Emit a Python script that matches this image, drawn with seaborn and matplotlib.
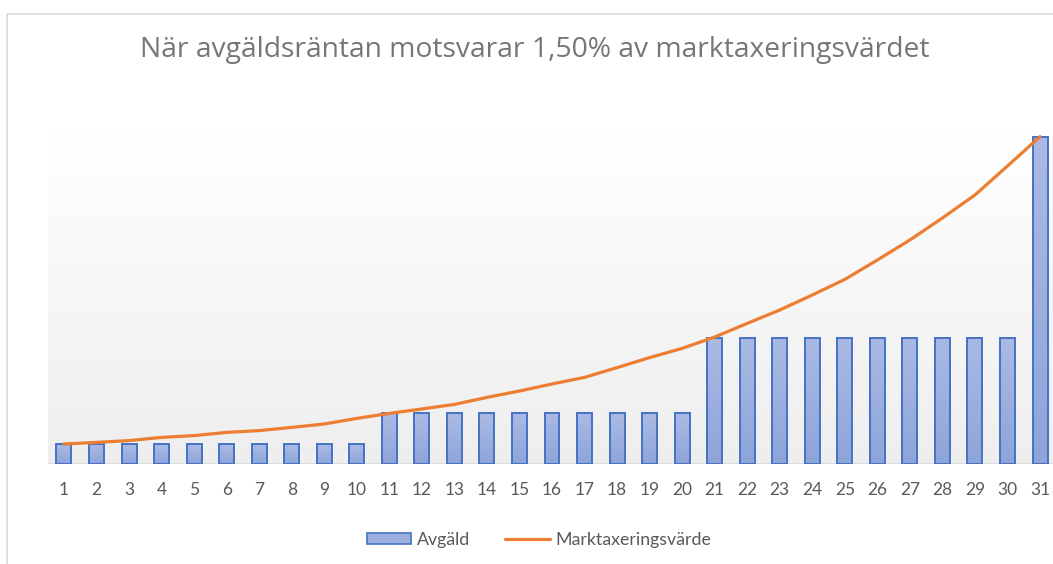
import numpy as np
import pandas as pd
import matplotlib
matplotlib.use("Agg")
import matplotlib.pyplot as plt
import matplotlib.patches as mpatches
from matplotlib.lines import Line2D
from matplotlib.colors import LinearSegmentedColormap
import seaborn as sns

# data (arbitrary units, year 1 = 1.0)
years = list(range(1, 32))
avgald = [1.0] * 10 + [2.53] * 10 + [6.32] * 10 + [16.35]
marktax = [1.00, 1.08, 1.17, 1.33, 1.42, 1.58, 1.67, 1.83, 2.00, 2.28,
           2.53, 2.75, 2.98, 3.33, 3.65, 4.00, 4.33, 4.82, 5.32, 5.78,
           6.35, 7.03, 7.70, 8.45, 9.23, 10.20, 11.20, 12.30, 13.45, 14.90,
           16.37]

title = "När avgäldsräntan motsvarar 1,50% av marktaxeringsvärdet"

BAR_EDGE = "#4472C4"
BAR_TOP = "#AABAE4"
BAR_BOT = "#8EA4D9"
ORANGE = "#ED7D31"
TXT = "#595959"
TITLE_C = "#767676"

sns.set_style("white")
plt.rcParams["font.family"] = ["Lato", "DejaVu Sans"]

df = pd.DataFrame({"year": years, "Avgäld": avgald,
                   "Marktaxeringsvärde": marktax})
df["pos"] = np.arange(len(df))

fig = plt.figure(figsize=(10.53, 5.64), dpi=100, facecolor="white")
ax = fig.add_axes([47.7 / 1053, 1 - 464 / 564, 1008.6 / 1053, 331 / 564])
ax.set_facecolor("white")

ytop = 16.55

# plot area gradient (white at top -> light grey at bottom)
bg_cmap = LinearSegmentedColormap.from_list("bg", ["#FFFFFF", "#EEEEEE"])
ax.imshow(np.linspace(1, 0, 256).reshape(-1, 1), extent=[-0.5, 30.5, 0, ytop],
          origin="lower", aspect="auto", cmap=bg_cmap, zorder=0)

sns.barplot(data=df, x="year", y="Avgäld", ax=ax, width=0.46,
            color=BAR_TOP, edgecolor=BAR_EDGE, linewidth=1.4, zorder=2)

# vertical gradient inside each bar
bar_cmap = LinearSegmentedColormap.from_list("bar", [BAR_BOT, BAR_TOP])
for p in list(ax.patches):
    x0, y0 = p.get_x(), p.get_y()
    w, h = p.get_width(), p.get_height()
    im = ax.imshow(np.linspace(0, 1, 64).reshape(-1, 1),
                   extent=[x0, x0 + w, y0, y0 + h], origin="lower",
                   aspect="auto", cmap=bar_cmap, zorder=2.5)
    im.set_clip_path(p)
    p.set_facecolor("none")
    p.set_zorder(3)

sns.lineplot(data=df, x="pos", y="Marktaxeringsvärde", ax=ax,
             color=ORANGE, linewidth=2.3, zorder=4)

ax.axhline(0, color="#D9D9D9", linewidth=1.2, zorder=1)

ax.set_xlim(-0.5, 30.5)
ax.set_ylim(0, ytop)
ax.set_xticks(df["pos"])
ax.set_xticklabels([str(y) for y in years], fontsize=12.5, color=TXT)
ax.tick_params(axis="x", length=0, pad=13)
ax.set_yticks([])
ax.set_xlabel("")
ax.set_ylabel("")
for s in ax.spines.values():
    s.set_visible(False)

fig.text(535 / 1053, 1 - 50 / 564, title, ha="center", va="center",
         fontsize=20.3, color=TITLE_C, family=["Open Sans", "DejaVu Sans"])

handles = [mpatches.Patch(facecolor="#9DAFDF", edgecolor=BAR_EDGE, linewidth=1.2),
           Line2D([0], [0], color=ORANGE, linewidth=2.3)]
fig.legend(handles, ["Avgäld", "Marktaxeringsvärde"], loc="center",
           bbox_to_anchor=(539 / 1053, 1 - 540 / 564), ncol=2, frameon=False,
           fontsize=12.8, labelcolor=TXT, handlelength=2.5, handleheight=0.6,
           handletextpad=0.3, columnspacing=2.0)

# chart border (left and top visible in the crop)
fig.patches.append(mpatches.Rectangle((7 / 1053, -0.2), 1.2, 1.2 - 14 / 564,
                                      transform=fig.transFigure, fill=False,
                                      edgecolor="#D9D9D9", linewidth=1.2))

fig.savefig("out.png", dpi=100, facecolor="white")
